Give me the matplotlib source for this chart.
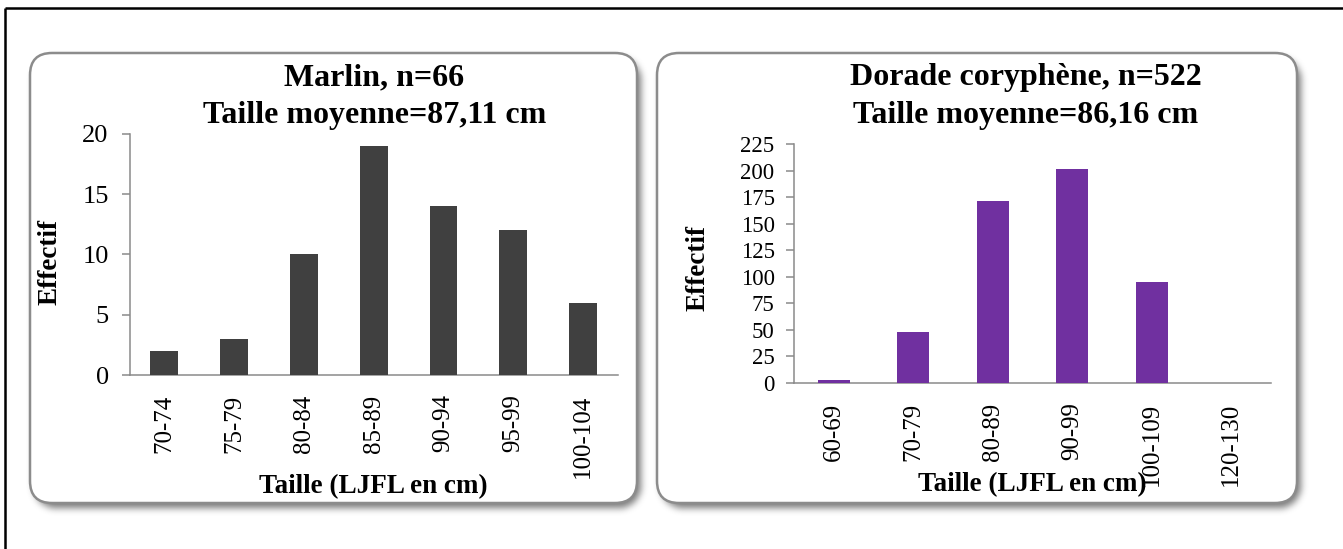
import numpy as np
import matplotlib.pyplot as plt
from matplotlib.patches import FancyBboxPatch

plt.rcParams['font.family'] = ['Liberation Serif', 'DejaVu Serif']

W, H = 1343, 549

# effectifs par classe de taille
marlin_classes = ['70-74', '75-79', '80-84', '85-89', '90-94', '95-99', '100-104']
marlin_counts = [2, 3, 10, 19, 14, 12, 6]

dorade_classes = ['60-69', '70-79', '80-89', '90-99', '100-109', '120-130']
dorade_counts = [3, 48, 171, 201, 95, 0]

AXIS_GREY = '#8a8a8a'


def rounded_mask(x0, y0, w, h, r):
    yy, xx = np.mgrid[0:H, 0:W] + 0.5
    cx = np.clip(xx, x0 + r, x0 + w - r)
    cy = np.clip(yy, y0 + r, y0 + h - r)
    return ((xx - cx) ** 2 + (yy - cy) ** 2 <= r * r).astype(float)


def box_blur(a, k):
    kern = np.ones(2 * k + 1) / (2 * k + 1)
    a = np.apply_along_axis(lambda m: np.convolve(m, kern, mode='same'), 0, a)
    a = np.apply_along_axis(lambda m: np.convolve(m, kern, mode='same'), 1, a)
    return a


def px_axes(x0, y0, x1, y1):
    return fig.add_axes([x0 / W, 1 - y1 / H, (x1 - x0) / W, (y1 - y0) / H])


def draw_bars(ax, classes, counts, color, ymax, step, ysize, ypad):
    x = np.arange(len(classes))
    ax.bar(x, counts, width=0.4, color=color, zorder=3)
    ax.set_xlim(-0.5, len(classes) - 0.5)
    ax.set_ylim(0, ymax)
    ax.set_yticks(np.arange(0, ymax + 1, step))
    ax.set_xticks(x, classes, rotation=90, va='top')
    ax.set_facecolor('none')
    for s in ['top', 'right']:
        ax.spines[s].set_visible(False)
    for s in ['left', 'bottom']:
        ax.spines[s].set_color(AXIS_GREY)
        ax.spines[s].set_linewidth(1.1)
    ax.tick_params(axis='y', direction='out', length=6, width=1.1,
                   color=AXIS_GREY, labelsize=ysize, pad=ypad)
    ax.tick_params(axis='x', length=0, labelsize=18, pad=14)


fig = plt.figure(figsize=(W / 100, H / 100), dpi=100)
bg = fig.add_axes([0, 0, 1, 1])
bg.set_xlim(0, W)
bg.set_ylim(H, 0)
bg.axis('off')

# cadre noir
bg.plot([5, 5], [8, H], color='black', lw=1.8, solid_capstyle='butt')
bg.plot([5, W], [8, 8], color='black', lw=1.8, solid_capstyle='butt')

panels = [(30, 53, 607, 450), (657, 53, 640, 450)]
radius = 22

# ombre portée floue sous les cadres arrondis
shadow = np.zeros((H, W))
for (x0, y0, w, h) in panels:
    shadow = np.maximum(shadow, rounded_mask(x0 + 4, y0 + 5, w, h, radius))
shadow = box_blur(box_blur(box_blur(shadow, 3), 3), 3)
rgba = np.zeros((H, W, 4))
rgba[..., :3] = 0.35
rgba[..., 3] = shadow * 0.8
bg.imshow(rgba, extent=(0, W, H, 0), zorder=1, interpolation='bilinear')
bg.set_xlim(0, W)
bg.set_ylim(H, 0)

for (x0, y0, w, h) in panels:
    bg.add_patch(FancyBboxPatch((x0, y0), w, h,
                                boxstyle='round,pad=0,rounding_size=%d' % radius,
                                facecolor='white', edgecolor='#8c8c8c',
                                linewidth=1.8, zorder=2))

# Marlin
ax1 = px_axes(129.5, 134, 618, 375)
draw_bars(ax1, marlin_classes, marlin_counts, '#404040', 20, 5, 19, 9)

# Dorade coryphène
ax2 = px_axes(794, 144, 1271, 383)
draw_bars(ax2, dorade_classes, dorade_counts, '#7030a0', 225, 25, 16.5, 8)

title_kw = dict(fontsize=23, fontweight='bold', ha='center', va='center', zorder=5)
bg.text(374, 78, 'Marlin, n=66', **title_kw)
bg.text(375, 115, 'Taille moyenne=87,11 cm', **title_kw)
bg.text(1026, 78, 'Dorade coryphène, n=522', **title_kw)
bg.text(1026, 115, 'Taille moyenne=86,16 cm', **title_kw)

label_kw = dict(fontsize=19.5, fontweight='bold', ha='center', va='center', zorder=5)
bg.text(373, 487, 'Taille (LJFL en cm)', **label_kw)
bg.text(1032, 485, 'Taille (LJFL en cm)', **label_kw)
bg.text(50, 262, 'Effectif', rotation=90, **label_kw)
bg.text(698, 268, 'Effectif', rotation=90, **label_kw)

fig.savefig('out.png', dpi=100)
